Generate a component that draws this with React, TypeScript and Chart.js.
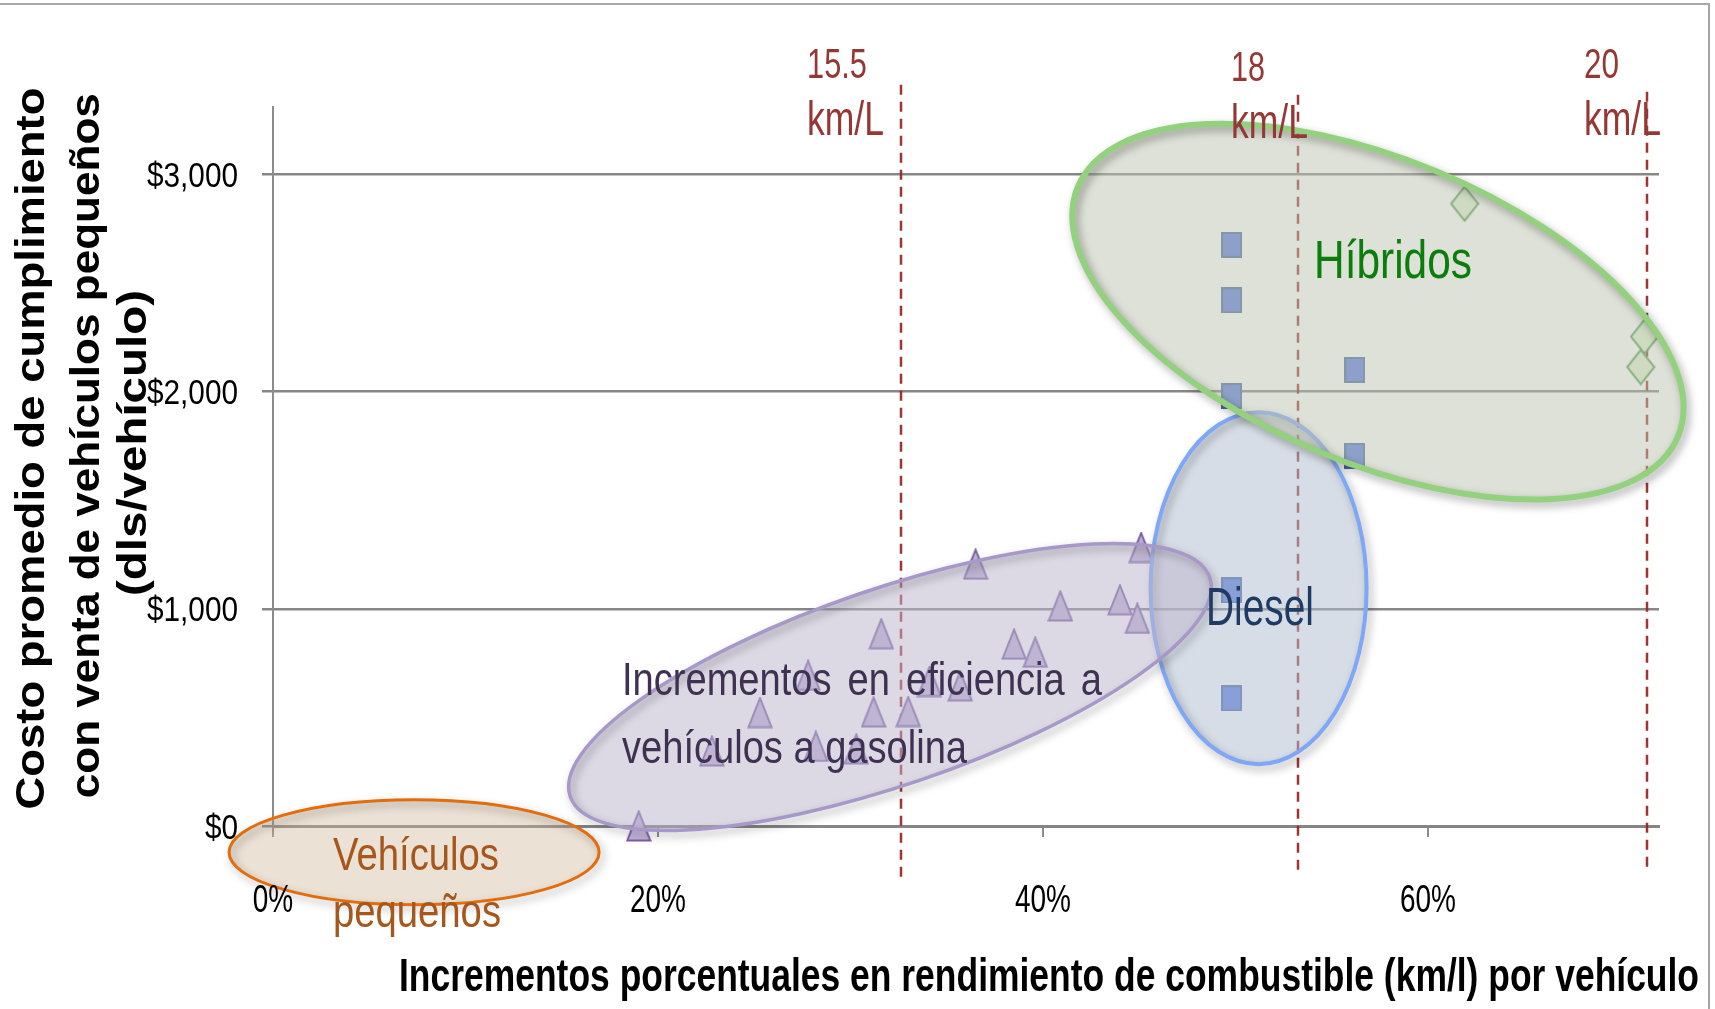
import React, { useEffect, useRef } from 'react';
import { Chart, registerables } from 'chart.js';

Chart.register(...registerables);

// ---------- data ----------
const xTickValues = [0, 20, 40, 60];
const yTickValues = [0, 1000, 2000, 3000];

// Incrementos en eficiencia a vehículos a gasolina (triangles)
const gasolineX = [19.0, 22.8, 25.3, 27.8, 28.2, 30.3, 31.2, 31.6, 33.0, 34.1, 35.7, 36.5, 38.5, 39.6, 40.9, 44.0, 44.9, 45.1];
const gasolineY = [0, 345, 522, 693, 366, 355, 525, 885, 527, 665, 645, 1205, 837, 800, 1013, 1041, 956, 1282];

// Diesel (squares)
const dieselX = [49.8, 49.8];
const dieselY = [1085, 587];

// Híbridos (squares)
const hybridX = [49.8, 49.8, 49.8, 56.2, 56.2];
const hybridY = [2675, 2420, 1980, 2100, 1705];

// Híbridos avanzados (diamonds)
const advHybridX = [61.9, 71.25, 71.05];
const advHybridY = [2865, 2253, 2113];

// Fuel-economy reference lines
const kmlValues = ['15.5', '18', '20'];
const kmlX = [32.6, 53.25, 71.4];

const yTitleLines = ['Costo promedio de cumplimiento', 'con venta de vehículos pequeños', '(dls/vehículo)'];
const xTitle = 'Incrementos porcentuales en rendimiento de combustible (km/l) por vehículo';

const fmtX = (v: number) => `${v}%`;
const fmtY = (v: number) => '$' + Number(v).toLocaleString('en-US');

// ---------- styling / layout ----------
const NARROW = "'Liberation Sans Narrow', 'Liberation Sans', 'DejaVu Sans Condensed', sans-serif";
const BOLD = "bold 40px 'Liberation Sans', 'DejaVu Sans', sans-serif";
const RED = '#953735';

const kmlLineStyle = [
  { top: 3412, bottom: -249, labelLeft: 807, numBase: 78, numW: 60, unitBase: 135 },
  { top: 3366, bottom: -226, labelLeft: 1231, numBase: 81, numW: 34, unitBase: 138 },
  { top: 3380, bottom: -194, labelLeft: 1584, numBase: 78, numW: 35, unitBase: 135 },
];

const ellipses = [
  { cx: 51.2, cy: 1095, rx: 108, ry: 176, rot: 0, fill: 'rgba(178,190,208,0.52)', stroke: '#7ea7f7', lw: 4 },
  { cx: 32.05, cy: 640, rx: 338, ry: 98, rot: -18.9, fill: 'rgba(188,182,206,0.52)', stroke: '#a898ca', lw: 3.5 },
  { cx: 57.4, cy: 2368, rx: 325, ry: 152, rot: 22.6, fill: 'rgba(190,195,175,0.5)', stroke: '#93d17f', lw: 6 },
  { cx: 7.33, cy: -121, rx: 185, ry: 52.5, rot: 0, fill: 'rgba(205,180,150,0.4)', stroke: '#e46c0a', lw: 3 },
];

function fitText(ctx: CanvasRenderingContext2D, text: string, x: number, y: number, w: number, capH: number, font: string, color: string) {
  ctx.save();
  ctx.font = font;
  ctx.textAlign = 'left';
  ctx.textBaseline = 'alphabetic';
  const m = ctx.measureText(text);
  const cap = ctx.measureText('H').actualBoundingBoxAscent || 1;
  ctx.translate(x, y);
  ctx.scale(w / m.width, capH / cap);
  ctx.fillStyle = color;
  ctx.fillText(text, 0, 0);
  ctx.restore();
}

// draws text with given horizontal scale, anchored by align ('right' | 'center')
function scaledText(ctx: CanvasRenderingContext2D, text: string, ax: number, baseY: number, sx: number, capH: number, font: string, color: string, align: 'right' | 'center') {
  ctx.save();
  ctx.font = font;
  ctx.textBaseline = 'alphabetic';
  ctx.textAlign = 'left';
  const w = ctx.measureText(text).width;
  const cap = ctx.measureText('H').actualBoundingBoxAscent || 1;
  ctx.translate(ax, baseY);
  ctx.scale(sx, capH / cap);
  ctx.fillStyle = color;
  ctx.fillText(text, align === 'right' ? -w : -w / 2, 0);
  ctx.restore();
}

function justifiedText(ctx: CanvasRenderingContext2D, words: string[], x: number, y: number, w: number, capH: number, sx: number, font: string, color: string) {
  ctx.save();
  ctx.font = font;
  const cap = ctx.measureText('H').actualBoundingBoxAscent || 1;
  const widths = words.map((wd) => ctx.measureText(wd).width * sx);
  const total = widths.reduce((a, b) => a + b, 0);
  const gap = (w - total) / (words.length - 1);
  let cx = x;
  ctx.fillStyle = color;
  ctx.textBaseline = 'alphabetic';
  words.forEach((wd, i) => {
    ctx.save();
    ctx.translate(cx, y);
    ctx.scale(sx, capH / cap);
    ctx.fillText(wd, 0, 0);
    ctx.restore();
    cx += widths[i] + gap;
  });
  ctx.restore();
}

function rotatedText(ctx: CanvasRenderingContext2D, text: string, baseX: number, centerY: number, len: number, capH: number, font: string, color: string) {
  ctx.save();
  ctx.font = font;
  const m = ctx.measureText(text);
  const cap = ctx.measureText('H').actualBoundingBoxAscent || 1;
  ctx.translate(baseX, centerY);
  ctx.rotate(-Math.PI / 2);
  ctx.scale(len / m.width, capH / cap);
  ctx.fillStyle = color;
  ctx.textBaseline = 'alphabetic';
  ctx.fillText(text, -m.width / 2, 0);
  ctx.restore();
}

const overlayPlugin = {
  id: 'overlay',
  beforeDatasetsDraw(chart: any) {
    const ctx: CanvasRenderingContext2D = chart.ctx;
    const xs = chart.scales.x;
    const ys = chart.scales.y;
    ctx.save();
    ctx.strokeStyle = 'rgba(150,35,35,0.92)';
    ctx.lineWidth = 2.5;
    ctx.setLineDash([10, 7]);
    kmlX.forEach((v, i) => {
      const px = Math.round(xs.getPixelForValue(v));
      ctx.beginPath();
      ctx.moveTo(px, ys.getPixelForValue(kmlLineStyle[i].top));
      ctx.lineTo(px, ys.getPixelForValue(kmlLineStyle[i].bottom));
      ctx.stroke();
    });
    ctx.restore();
  },
  afterDatasetsDraw(chart: any) {
    const ctx: CanvasRenderingContext2D = chart.ctx;
    const xs = chart.scales.x;
    const ys = chart.scales.y;
    ellipses.forEach((e) => {
      const cx = xs.getPixelForValue(e.cx);
      const cy = ys.getPixelForValue(e.cy);
      ctx.save();
      ctx.beginPath();
      ctx.ellipse(cx, cy, e.rx, e.ry, (e.rot * Math.PI) / 180, 0, Math.PI * 2);
      ctx.fillStyle = e.fill;
      ctx.fill();
      ctx.shadowColor = 'rgba(0,0,0,0.35)';
      ctx.shadowBlur = 9;
      ctx.shadowOffsetX = 3;
      ctx.shadowOffsetY = 4;
      ctx.strokeStyle = e.stroke;
      ctx.lineWidth = e.lw;
      ctx.stroke();
      ctx.restore();
    });
  },
  afterDraw(chart: any) {
    const ctx: CanvasRenderingContext2D = chart.ctx;
    const xs = chart.scales.x;
    const ys = chart.scales.y;
    const nf = `40px ${NARROW}`;
    const tf = "40px 'Liberation Sans', 'DejaVu Sans', sans-serif";

    // axis tick labels (positions from the library's scales)
    ctx.save();
    ctx.font = tf;
    const sxY = 91 / ctx.measureText(fmtY(3000)).width;
    const sxX = 56 / ctx.measureText(fmtX(20)).width;
    ctx.restore();
    ys.ticks.forEach((t: any) => {
      const py = ys.getPixelForValue(t.value);
      scaledText(ctx, fmtY(t.value), xs.left - 35, py + 12.5, sxY, 25, tf, '#000', 'right');
    });
    xs.ticks.forEach((t: any) => {
      const px = xs.getPixelForValue(t.value);
      scaledText(ctx, fmtX(t.value), px, ys.bottom + 86, sxX, 27, tf, '#000', 'center');
    });

    // km/L labels
    kmlValues.forEach((v, i) => {
      const s = kmlLineStyle[i];
      fitText(ctx, v, s.labelLeft, s.numBase, s.numW, 30, nf, RED);
      fitText(ctx, 'km/L', s.labelLeft, s.unitBase, 77, 34, nf, RED);
    });
    // group labels
    fitText(ctx, 'Híbridos', 1314, 278, 158, 37, nf, '#0b7d0b');
    fitText(ctx, 'Diesel', 1206, 625, 108, 38, nf, '#1f3b64');
    ctx.save();
    ctx.font = nf;
    const line2 = 'vehículos a gasolina';
    const sx = 345 / ctx.measureText(line2).width;
    ctx.restore();
    justifiedText(ctx, ['Incrementos', 'en', 'eficiencia', 'a'], 622, 695, 480, 32, sx, nf, '#3f3151');
    fitText(ctx, line2, 622, 763, 345, 32, nf, '#3f3151');
    fitText(ctx, 'Vehículos', 333, 870, 166, 32, nf, '#a5571c');
    fitText(ctx, 'pequeños', 333, 927, 168, 32, nf, '#a5571c');
    // axis titles
    fitText(ctx, xTitle, 399, 991, 1300, 33, BOLD, '#000');
    const bx = [44, 99, 146];
    const cy = [448.5, 445.7, 443];
    const ln = [722, 705, 306];
    yTitleLines.forEach((t, i) => rotatedText(ctx, t, bx[i], cy[i], ln[i], 28, BOLD, '#000'));
    // frame
    ctx.save();
    ctx.strokeStyle = '#a6a6a6';
    ctx.lineWidth = 2;
    ctx.beginPath();
    ctx.moveTo(0, 4);
    ctx.lineTo(1709, 4);
    ctx.lineTo(1709, 1009);
    ctx.stroke();
    ctx.restore();
  },
};

function makeMarker(w: number, h: number, draw: (g: CanvasRenderingContext2D) => void) {
  const c = document.createElement('canvas');
  c.width = w;
  c.height = h;
  const g = c.getContext('2d') as CanvasRenderingContext2D;
  draw(g);
  return c;
}

export default function App() {
  const ref = useRef<HTMLCanvasElement | null>(null);

  useEffect(() => {
    if (!ref.current) return;
    const tri = makeMarker(26, 32, (g) => {
      g.beginPath();
      g.moveTo(13, 1.5);
      g.lineTo(24.5, 30.5);
      g.lineTo(1.5, 30.5);
      g.closePath();
      g.fillStyle = '#c2b4da';
      g.fill();
      g.strokeStyle = '#7b5fa2';
      g.lineWidth = 2;
      g.stroke();
    });
    const sq = makeMarker(21, 26, (g) => {
      g.fillStyle = '#5a7de2';
      g.fillRect(1, 1, 19, 24);
      g.strokeStyle = '#4a6a9e';
      g.lineWidth = 2;
      g.strokeRect(1, 1, 19, 24);
    });
    const dia = makeMarker(30, 37, (g) => {
      g.beginPath();
      g.moveTo(15, 1.5);
      g.lineTo(28.5, 18.5);
      g.lineTo(15, 35.5);
      g.lineTo(1.5, 18.5);
      g.closePath();
      g.fillStyle = '#dff2d2';
      g.fill();
      g.strokeStyle = '#4f9a4f';
      g.lineWidth = 2;
      g.stroke();
    });

    const pts = (xs: number[], ys: number[]) => xs.map((x, i) => ({ x, y: ys[i] }));

    const chart = new Chart(ref.current, {
      type: 'scatter',
      data: {
        datasets: [
          { label: 'Gasolina', data: pts(gasolineX, gasolineY), pointStyle: tri as any, pointRadius: 13, pointHoverRadius: 13, clip: false as any },
          { label: 'Diesel', data: pts(dieselX, dieselY), pointStyle: sq as any, pointRadius: 11, pointHoverRadius: 11, clip: false as any },
          { label: 'Híbridos', data: pts(hybridX, hybridY), pointStyle: sq as any, pointRadius: 11, pointHoverRadius: 11, clip: false as any },
          { label: 'Híbridos avanzados', data: pts(advHybridX, advHybridY), pointStyle: dia as any, pointRadius: 15, pointHoverRadius: 15, clip: false as any },
        ],
      },
      options: {
        responsive: false,
        animation: false,
        events: [],
        layout: { padding: { top: 107, right: 56, left: 0, bottom: 0 } },
        plugins: { legend: { display: false }, tooltip: { enabled: false } },
        scales: {
          x: {
            type: 'linear',
            position: 'bottom',
            min: 0,
            max: 72,
            afterFit: (s: any) => { s.height = 183; },
            afterBuildTicks: (s: any) => { s.ticks = xTickValues.map((v) => ({ value: v })); },
            ticks: { display: false, callback: (v: any) => fmtX(v) },
            grid: { drawOnChartArea: false, drawTicks: true, tickLength: 11, color: '#8c8c8c', lineWidth: 2 },
            border: { display: true, color: '#858585', width: 3 },
          },
          y: {
            type: 'linear',
            min: 0,
            max: 3310,
            afterFit: (s: any) => { s.width = 273; },
            afterBuildTicks: (s: any) => { s.ticks = yTickValues.map((v) => ({ value: v })); },
            ticks: { display: false, callback: (v: any) => fmtY(v) },
            grid: { drawOnChartArea: true, drawTicks: true, tickLength: 11, color: '#878787', lineWidth: 2.5 },
            border: { display: true, color: '#8c8c8c', width: 2 },
          },
        },
      },
      plugins: [overlayPlugin as any],
    });
    return () => chart.destroy();
  }, []);

  return (
    <div style={{ position: 'fixed', left: 0, top: 0, width: 1715, height: 1009, background: '#fff' }}>
      <canvas ref={ref} width={1715} height={1009} style={{ display: 'block', width: 1715, height: 1009 }} />
    </div>
  );
}
